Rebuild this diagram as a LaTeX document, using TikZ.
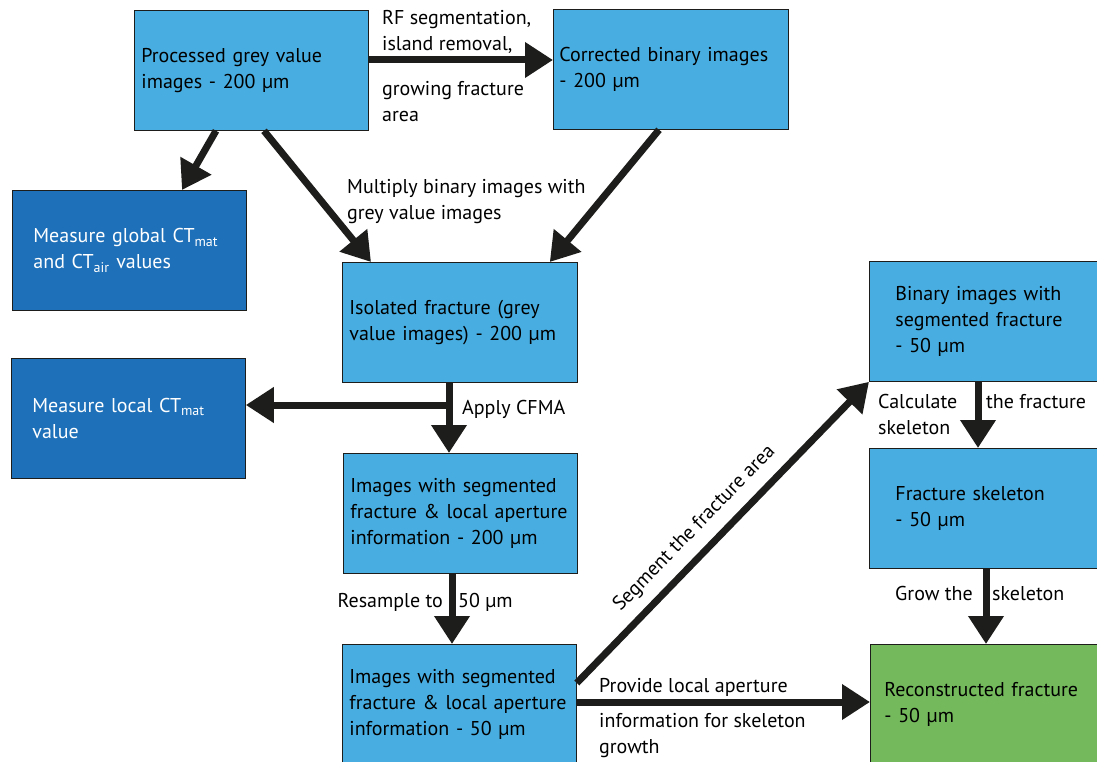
\documentclass[tikz,border=0pt]{standalone}
\usepackage{fontspec}
\setmainfont{PT Sans}
\usetikzlibrary{arrows.meta}
\definecolor{lightblue}{RGB}{72,174,225}
\definecolor{darkblue}{RGB}{30,112,184}
\definecolor{lightgreen}{RGB}{116,185,92}
\definecolor{arrowgray}{RGB}{29,29,27}
\begin{document}
\begin{tikzpicture}[x=1pt,y=-1pt,
  every node/.style={font=\fontsize{20}{26}\selectfont},
  box/.style={draw=arrowgray, line width=0.8pt, fill=lightblue, anchor=north west, minimum height=120pt, inner ysep=0pt, align=left},
  darkbox/.style={box, fill=darkblue, text=white},
  flow/.style={draw=arrowgray, line width=7pt, -{Triangle[length=28pt,width=34pt]}},
  lbl/.style={inner sep=0pt, align=left}]
\path[use as bounding box, fill=white] (0,0) rectangle (1097,762);
\node[box, text width=220pt, inner xsep=7pt] (proc) at (134,10) {Processed grey value\\images - 200 µm};
\node[box, text width=223pt, inner xsep=6pt] (corr) at (553,9) {Corrected binary images\\- 200 µm};
\node[darkbox, text width=192pt, inner xsep=21pt] (glob) at (12,190) {Measure global CT\textsubscript{mat}\\and CT\textsubscript{air} values};
\node[box, text width=221pt, inner xsep=7pt] (iso) at (342,262) {Isolated fracture (grey\\value images) - 200 µm};
\node[darkbox, text width=192pt, inner xsep=21pt] (loc) at (11,358) {Measure local CT\textsubscript{mat}\\value};
\node[box, text width=220pt, inner xsep=7pt] (seg200) at (343,453) {Images with segmented\\fracture \& local aperture\\information - 200 µm};
\node[box, text width=220pt, inner xsep=7pt] (seg50) at (342,644) {Images with segmented\\fracture \& local aperture\\information - 50 µm};
\node[box, text width=188pt, inner xsep=26pt] (bin) at (869,261) {Binary images with\\segmented fracture\\- 50 µm};
\node[box, text width=188pt, inner xsep=26pt] (skel) at (869,448) {Fracture skeleton\\- 50 µm};
\node[box, fill=lightgreen, text width=212pt, inner xsep=14pt] (recon) at (870,644) {Reconstructed fracture\\- 50 µm};
\coordinate (rf) at (460,60);
\draw[flow] (proc.east |- rf) -- (corr.west |- rf);
\node[lbl, anchor=north west] (rftop) at (382,10) {RF segmentation,\\island removal,};
\node[lbl, anchor=north west] (rfbot) at (382,81) {growing fracture\\area};
\draw[flow] ([xshift=82pt]proc.south west) -- ([xshift=170pt]glob.north west);
\draw[flow] ([xshift=130pt]proc.south west) -- ([xshift=29pt]iso.north west);
\draw[flow] ([xshift=106pt]corr.south west) -- ([xshift=-28pt]iso.north east);
\node[lbl, anchor=north west] (mult) at (347,179) {Multiply binary images with\\grey value images};
\coordinate (cfma) at (449,405);
\draw[flow] (iso.south -| cfma) -- (seg200.north -| cfma);
\draw[flow] (cfma) -- (cfma -| loc.east);
\node[lbl, anchor=north west] (cfmalab) at (462,400) {Apply CFMA};
\coordinate (rs) at (452,607);
\draw[flow] (seg200.south -| rs) -- (seg50.north -| rs);
\node[anchor=base east, inner sep=0pt] (rsleft) at (443,607) {Resample to};
\node[anchor=base west, inner sep=0pt] (rsright) at (458,607) {50 µm};
\coordinate (sega) at (0,683);
\draw[flow] (seg50.east |- sega) -- (bin.south west) node[pos=0.46, sloped, above=7pt] (seglab) {Segment the fracture area};
\coordinate (prov) at (720,702);
\draw[flow] (seg50.east |- prov) -- (recon.west |- prov);
\node[lbl, anchor=north west] (provtop) at (599,678) {Provide local aperture};
\node[lbl, anchor=north west] (provbot) at (599,713) {information for skeleton\\growth};
\coordinate (calc) at (978,408);
\draw[flow] (bin.south -| calc) -- (skel.north -| calc);
\node[lbl, anchor=north west] (calcleft) at (878,394) {Calculate\\skeleton};
\node[anchor=base west, inner sep=0pt] (calcright) at (986,408) {the fracture};
\coordinate (grow) at (986,600);
\draw[flow] (skel.south -| grow) -- (recon.north -| grow);
\node[anchor=base west, inner sep=0pt] (growleft) at (895,600) {Grow the};
\node[anchor=base west, inner sep=0pt] (growright) at (992,600) {skeleton};
\end{tikzpicture}
\end{document}
